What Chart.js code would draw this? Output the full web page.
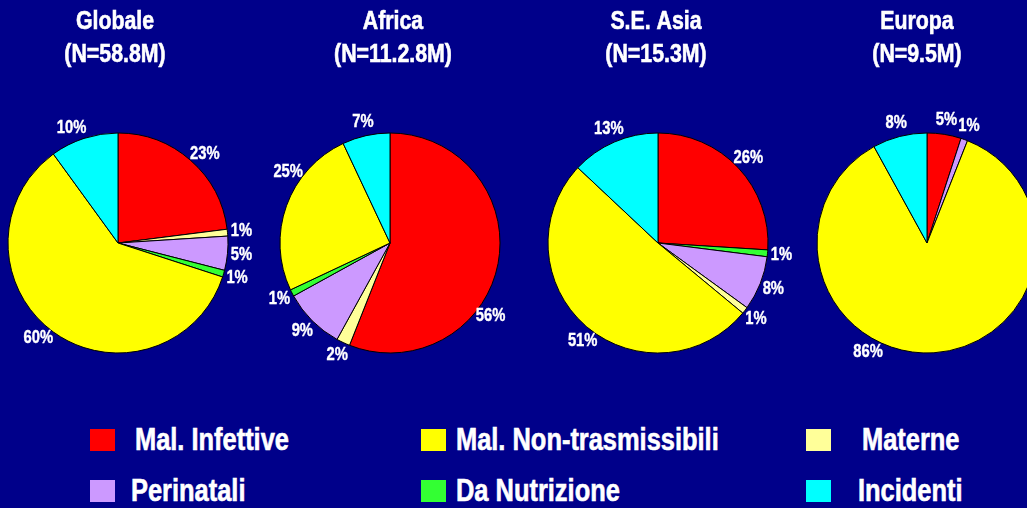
<!DOCTYPE html>
<html>
<head>
<meta charset="utf-8">
<script src="https://cdn.jsdelivr.net/npm/chart.js@4"></script>
<style>
  html, body { margin: 0; padding: 0; }
  body {
    width: 1027px; height: 508px; overflow: hidden; position: relative;
    background: #00008a;
    font-family: "Liberation Sans", Arial, sans-serif;
  }
  .pie { position: absolute; top: 0; }
  .mark { position: absolute; width: 25px; height: 22px; }
  .txt {
    position: absolute; color: #fff; font-weight: bold; font-size: 31px;
    line-height: 36px; white-space: nowrap;
    -webkit-text-stroke: 0.6px #fff;
    transform: scaleX(0.82); transform-origin: left center;
  }
</style>
</head>
<body>
<canvas class="pie" id="pie0" width="300" height="400"></canvas>
<canvas class="pie" id="pie1" width="300" height="400"></canvas>
<canvas class="pie" id="pie2" width="300" height="400"></canvas>
<canvas class="pie" id="pie3" width="300" height="400"></canvas>
<div id="legend"></div>
<script>
// categories, in legend order
const categories = ['Mal. Infettive', 'Mal. Non-trasmissibili', 'Materne', 'Perinatali', 'Da Nutrizione', 'Incidenti'];

const panelNames = ['Globale', 'Africa', 'S.E. Asia', 'Europa'];
const panelTotals = ['(N=58.8M)', '(N=11.2.8M)', '(N=15.3M)', '(N=9.5M)'];

// slices clockwise from 12 o'clock, values in %
const globaleOrder = ['Mal. Infettive', 'Materne', 'Perinatali', 'Da Nutrizione', 'Mal. Non-trasmissibili', 'Incidenti'];
const globaleValues = [23, 1, 5, 1, 60, 10];

const africaOrder = ['Mal. Infettive', 'Materne', 'Perinatali', 'Da Nutrizione', 'Mal. Non-trasmissibili', 'Incidenti'];
const africaValues = [56, 2, 9, 1, 25, 7];

const asiaOrder = ['Mal. Infettive', 'Da Nutrizione', 'Perinatali', 'Materne', 'Mal. Non-trasmissibili', 'Incidenti'];
const asiaValues = [26, 1, 8, 1, 51, 13];

const europaOrder = ['Mal. Infettive', 'Perinatali', 'Mal. Non-trasmissibili', 'Incidenti'];
const europaValues = [5, 1, 86, 8];

const palette = {
  'Mal. Infettive': '#ff0000',
  'Mal. Non-trasmissibili': '#ffff00',
  'Materne': '#ffff99',
  'Perinatali': '#cc99ff',
  'Da Nutrizione': '#33ff33',
  'Incidenti': '#00ffff'
};

const FONT = '"Liberation Sans", Arial, sans-serif';
const SQUEEZE = 0.82; // narrow look of the original lettering

function narrowText(ctx, text, x, y) {
  ctx.save();
  ctx.translate(x, y);
  ctx.scale(SQUEEZE, 1);
  ctx.fillText(text, 0, 0);
  ctx.strokeText(text, 0, 0);
  ctx.restore();
}

// two-line heading above each pie
const panelTitle = {
  id: 'panelTitle',
  afterDraw(chart, args, opts) {
    const ctx = chart.ctx;
    const x = (chart.chartArea.left + chart.chartArea.right) / 2 + (opts.dx || 0);
    ctx.save();
    ctx.fillStyle = '#fff';
    ctx.strokeStyle = '#fff';
    ctx.lineWidth = 0.6;
    ctx.font = 'bold 26px ' + FONT;
    ctx.textAlign = 'center';
    ctx.textBaseline = 'middle';
    opts.lines.forEach((t, i) => narrowText(ctx, t, x, 22 + i * 33));
    ctx.restore();
  }
};

// percentage next to each slice
const pctLabels = {
  id: 'pctLabels',
  afterDatasetsDraw(chart, args, opts) {
    const ctx = chart.ctx;
    const meta = chart.getDatasetMeta(0);
    const data = chart.data.datasets[0].data;
    ctx.save();
    ctx.fillStyle = '#fff';
    ctx.strokeStyle = '#fff';
    ctx.lineWidth = 0.4;
    ctx.font = 'bold 18px ' + FONT;
    ctx.textAlign = 'center';
    ctx.textBaseline = 'middle';
    meta.data.forEach((arc, i) => {
      const shift = ((opts.shift || [])[i] || 0) * Math.PI / 180;
      const a = (arc.startAngle + arc.endAngle) / 2 + shift;
      const r = arc.outerRadius + opts.gap;
      narrowText(ctx, data[i] + '%', arc.x + Math.cos(a) * r, arc.y + Math.sin(a) * r);
    });
    ctx.restore();
  }
};

const panels = [
  { order: globaleOrder, values: globaleValues, cx: 118, dx: -3, shift: [3, 0, 0, 0, 4, -4] },
  { order: africaOrder, values: africaValues, cx: 390, dx: 3, shift: [25, 0, 0, 0, 15, 0] },
  { order: asiaOrder, values: asiaValues, cx: 658, dx: -2, shift: [0, 0, 0, 0, -4, 0] },
  { order: europaOrder, values: europaValues, cx: 927, dx: -10, shift: [0, 0, 32, 0] }
];

panels.forEach((p, k) => {
  const canvas = document.getElementById('pie' + k);
  canvas.style.left = (p.cx - 150) + 'px';
  new Chart(canvas, {
    type: 'pie',
    data: {
      labels: p.order,
      datasets: [{
        data: p.values,
        backgroundColor: p.order.map(c => palette[c]),
        borderColor: '#000',
        borderWidth: 1
      }]
    },
    options: {
      responsive: false,
      animation: false,
      layout: { padding: { top: 132.5, bottom: 46.5, left: 0, right: 0 } },
      plugins: {
        legend: { display: false },
        tooltip: { enabled: false },
        panelTitle: { lines: [panelNames[k], panelTotals[k]], dx: p.dx },
        pctLabels: { gap: 14, shift: p.shift }
      }
    },
    plugins: [panelTitle, pctLabels]
  });
});

// legend: 3 columns x 2 rows
const legend = document.getElementById('legend');
const markX = [90, 421, 806];
const markY = [429, 480];
const textX = [[135, 456, 862], [131, 456, 858]];
categories.forEach((c, i) => {
  const row = Math.floor(i / 3), col = i % 3;
  const m = document.createElement('div');
  m.className = 'mark';
  m.style.left = markX[col] + 'px';
  m.style.top = markY[row] + 'px';
  m.style.background = palette[c];
  legend.appendChild(m);
  const t = document.createElement('div');
  t.className = 'txt';
  t.textContent = c;
  t.style.left = textX[row][col] + 'px';
  t.style.top = (markY[row] + 11 - 18) + 'px';
  legend.appendChild(t);
});
</script>
</body>
</html>
